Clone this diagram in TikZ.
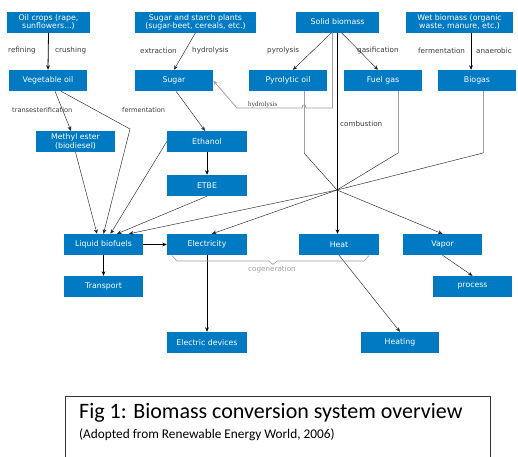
\documentclass[tikz,border=0pt]{standalone}
\usepackage{fontspec}
\setmainfont{DejaVu Sans}
\newfontfamily\capfont{Carlito}
\newfontfamily\smallserif{Liberation Serif}
\usetikzlibrary{arrows.meta,calc}
\definecolor{boxblue}{RGB}{0,122,194}
\definecolor{labelgray}{RGB}{60,60,60}
\definecolor{linegray}{RGB}{160,160,160}
\begin{document}
\begin{tikzpicture}[x=1pt,y=-1pt,
  bx/.style={fill=boxblue,text=white,inner sep=0pt,align=center,
    font=\fontsize{7.8}{8.2}\selectfont,minimum height=21pt},
  w78/.style={minimum width=78pt},
  w80/.style={minimum width=80pt},
  lbl/.style={text=labelgray,inner sep=0pt,font=\fontsize{7.2}{8}\selectfont},
  main/.style={draw=black,line width=0.8pt,-{Stealth[length=4.5pt,width=3.8pt]}},
  thinarr/.style={draw=black!85,line width=0.45pt,-{Stealth[length=4.5pt,width=3.8pt]}},
  thinline/.style={draw=black!85,line width=0.45pt},
  grayline/.style={draw=linegray,line width=0.8pt},
]
\useasboundingbox (0,0) rectangle (518,456);
\fill[white] (0,0) rectangle (518,456);

% top row
\node[bx,minimum width=83pt] (oil) at (48.5,22) {Oil crops (rape,\\sunflowers...)};
\node[bx,minimum width=121pt] (plants) at (195.5,22) {Sugar and starch plants\\(sugar-beet, cereals, etc.)};
\node[bx,minimum width=83pt] (solid) at (337.5,22) {Solid biomass};
\node[bx,minimum width=107pt] (wet) at (459.5,22) {Wet biomass (organic\\waste, manure, etc.)};

% second row
\node[bx,w78] (vegoil) at (48,80.5) {Vegetable oil};
\node[bx,w78] (sugar) at (174,80.5) {Sugar};
\node[bx,w78] (pyro) at (288,80.5) {Pyrolytic oil};
\node[bx,w78] (fuelgas) at (383,80.5) {Fuel gas};
\node[bx,w78] (biogas) at (477,80.5) {Biogas};

% third row
\node[bx,minimum width=79pt] (methyl) at (75.5,141.5) {Methyl ester\\(biodiesel)};
\node[bx,w80] (ethanol) at (207,141.5) {Ethanol};
\node[bx,w80] (etbe) at (207,185.5) {ETBE};

% fourth row
\node[bx,minimum width=79pt] (liquid) at (103.5,244.5) {Liquid biofuels};
\node[bx,w80] (elec) at (207,244.5) {Electricity};
\node[bx,w80] (heat) at (339,244.5) {Heat};
\node[bx,minimum width=79pt] (vapor) at (442.5,244.5) {Vapor};

% bottom rows
\node[bx,minimum width=79pt] (transport) at (103.5,286.5) {Transport};
\node[bx,minimum width=79pt] (process) at (472.5,286.5) {process};
\node[bx,w80] (devices) at (207,342.5) {Electric devices};
\node[bx,w78] (heating) at (400,342.5) {Heating};

% labels
\node[lbl,anchor=west] (l1) at (8,51) {refining};
\node[lbl,anchor=west] (l2) at (55,51) {crushing};
\node[lbl,anchor=west] (l3) at (140,51) {extraction};
\node[lbl,anchor=west] (l4) at (192,51) {hydrolysis};
\node[lbl,anchor=west] (l5) at (267,51) {pyrolysis};
\node[lbl,anchor=west] (l6) at (357,51) {gasification};
\node[lbl,anchor=west] (l7) at (418,51) {fermentation};
\node[lbl,anchor=west] (l8) at (476,51) {anaerobic};
\node[lbl,anchor=west,font=\fontsize{6.6}{7}\selectfont] (l9) at (12,110) {transesterification};
\node[lbl,anchor=west,font=\fontsize{6.6}{7}\selectfont] (l10) at (122,110) {fermentation};
\node[lbl,anchor=west,font=\smallserif\fontsize{7}{8}\selectfont] (l11) at (248,105) {hydrolysis};
\node[lbl,anchor=west] (l12) at (340,124) {combustion};
\node[lbl,text=linegray] (l13) at (272,270) {cogeneration};

% waypoint coordinates
\coordinate (h1) at (237,108);
\coordinate (v1) at (130,129);
\coordinate (p1) at (304,153);
\coordinate (f1) at (398,153);
\coordinate (b1) at (483,153);
\coordinate (hub) at (337,190);

% hydrolysis route from solid biomass to sugar (drawn first)
\draw[grayline,-{Stealth[length=4.5pt,width=3.8pt]}]
  ([xshift=-5pt]solid.south) -- (332.5,108) -- (306,108)
  .. controls (306,104) and (302,104) .. (302,108) -- (h1) -- (sugar.east);

% primary connectors
\draw[main] (oil.south) -- (vegoil.north);
\draw[main] ([xshift=11.5pt]wet.south) -- ([xshift=-6pt]biogas.north);
\draw[main] (solid.south) -- (solid.south |- heat.north);
\draw[main] (ethanol.south) -- (etbe.north);
\draw[main] (liquid.east) -- (elec.west);
\draw[main] (liquid.south) -- (transport.north);
\draw[main] (elec.south) -- (devices.north);

% thin connectors
\draw[thinarr] (plants.south) -- (sugar.north);
\draw[thinarr] ([xshift=-6pt]solid.south) -- ([xshift=5pt]pyro.north);
\draw[thinarr] ([xshift=4pt]solid.south) -- ([xshift=-5pt]fuelgas.north);
\draw[thinarr] ([xshift=7pt]vegoil.south) -- ([xshift=-4.5pt]methyl.north);
\draw[thinarr] ([xshift=13pt]vegoil.south) -- (v1) -- (liquid.north);
\draw[thinarr] ([xshift=2pt]sugar.south) -- ([xshift=-2pt]ethanol.north);
\draw[thinarr] (methyl.south) -- ([xshift=-6.5pt]liquid.north);
\draw[thinarr] (ethanol.west) -- ([xshift=7pt]liquid.north);
\draw[thinarr] (etbe.south) -- ([xshift=13.5pt]liquid.north);

% gray verticals from pyrolytic oil, fuel gas, biogas
\draw[grayline] ([xshift=16pt]pyro.south) -- (p1);
\draw[grayline] ([xshift=15pt]fuelgas.south) -- (f1);
\draw[grayline] ([xshift=6pt]biogas.south) -- (b1);
\draw[thinline] (p1) -- (hub);
\draw[thinline] (f1) -- (hub);
\draw[thinline] (b1) -- (hub);
\draw[thinarr] (hub) -- (vapor.north);
\draw[thinarr] (hub) -- ([xshift=5pt]elec.north);
\draw[thinarr] (hub) -- ([xshift=25.5pt]liquid.north);

\draw[thinarr] (heat.south) -- (heating.north);
\draw[thinarr] (vapor.south) -- (process.north);

% cogeneration brace
\draw[draw=linegray,line width=0.6pt] (172,255.5) -- (177,261) -- (269,261) -- (273,264.5) -- (277,261) -- (364,261) -- (369,255.5);

% caption
\draw[draw=black!80,line width=0.9pt] (65,458) -- (65,396) -- (490,396) -- (490,458);
\node[anchor=base west,inner sep=0pt,font=\capfont\fontsize{22}{24}\selectfont] (cap1) at (79,418) {Fig 1: Biomass conversion system overview};
\node[anchor=base west,inner sep=0pt,font=\capfont\fontsize{13.3}{15}\selectfont] (cap2) at (79,438.5) {(Adopted from Renewable Energy World, 2006)};
\end{tikzpicture}
\end{document}
